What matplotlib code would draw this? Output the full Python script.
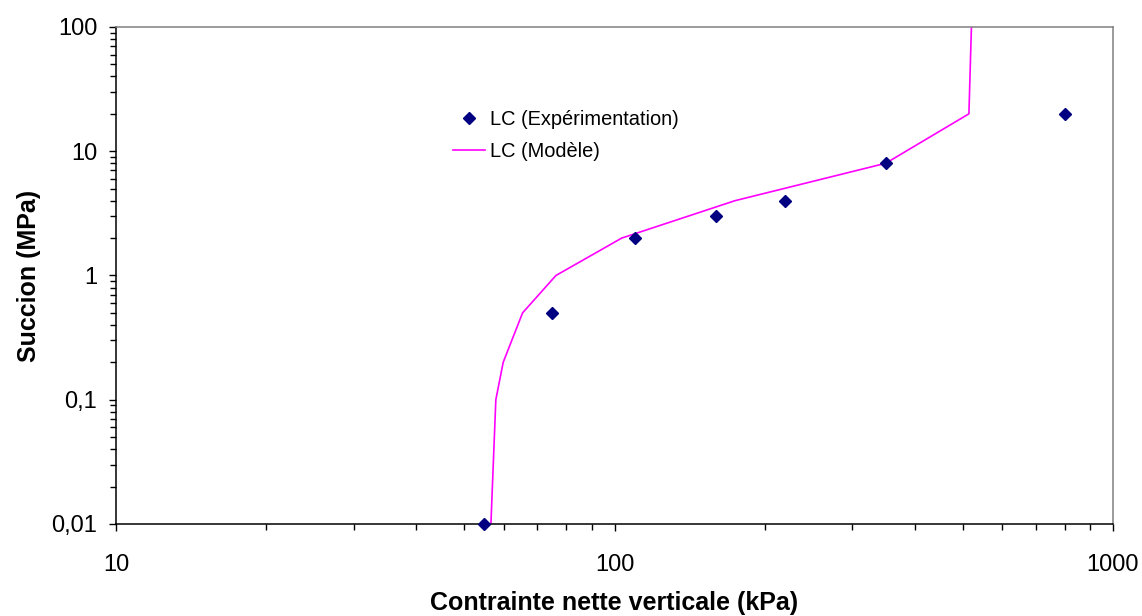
import matplotlib
matplotlib.use("Agg")
import matplotlib.pyplot as plt
from matplotlib.ticker import FixedLocator, LogLocator, NullFormatter

plt.rcParams["font.family"] = ["Liberation Sans", "DejaVu Sans"]

# --- data ---
exp_stress = [54.7, 75, 110, 160, 220, 350, 800]      # kPa
exp_suction = [0.01, 0.5, 2, 3, 4, 8, 20]              # MPa

model_stress = [56.5, 57.8, 59.8, 65.4, 76.3, 103.4, 174.5, 350, 514, 520]
model_suction = [0.01, 0.1, 0.2, 0.5, 1, 2, 4, 8, 20, 100]

xticks = [10, 100, 1000]
xtick_labels = ["10", "100", "1000"]
yticks = [0.01, 0.1, 1, 10, 100]
ytick_labels = ["0,01", "0,1", "1", "10", "100"]

fig = plt.figure(figsize=(11.42, 6.16), dpi=100)
ax = fig.add_axes([0.1016, 0.1494, 0.873, 0.8068])

ax.plot(model_stress, model_suction, color="#FF00FF", lw=1.2,
        label="LC (Modèle)", zorder=2)
ax.plot(exp_stress, exp_suction, ls="none", marker="D", ms=6.5,
        color="#000080", label="LC (Expérimentation)", zorder=3, clip_on=False)

ax.set_xscale("log")
ax.set_yscale("log")
ax.set_xlim(10, 1000)
ax.set_ylim(0.01, 100)

ax.xaxis.set_major_locator(FixedLocator(xticks))
ax.set_xticklabels(xtick_labels)
ax.yaxis.set_major_locator(FixedLocator(yticks))
ax.set_yticklabels(ytick_labels)
ax.xaxis.set_minor_locator(LogLocator(base=10, subs=range(2, 10)))
ax.yaxis.set_minor_locator(LogLocator(base=10, subs=range(2, 10)))
ax.xaxis.set_minor_formatter(NullFormatter())
ax.yaxis.set_minor_formatter(NullFormatter())

ax.tick_params(axis="x", which="major", direction="out", length=5, width=1,
               pad=16.5, labelsize=17)
ax.tick_params(axis="y", which="major", direction="out", length=5, width=1,
               pad=8.5, labelsize=17)
ax.tick_params(which="minor", direction="out", length=4, width=1)
ax.tick_params(top=False, right=False, which="both")

for side in ("left", "bottom"):
    ax.spines[side].set_color("black")
    ax.spines[side].set_linewidth(1.1)
for side in ("top", "right"):
    ax.spines[side].set_color("#808080")
    ax.spines[side].set_linewidth(1.1)

ax.set_xlabel("Contrainte nette verticale (kPa)", fontsize=18, fontweight="bold")
ax.set_ylabel("Succion (MPa)", fontsize=18, fontweight="bold")
ax.xaxis.set_label_coords(0.5, -0.135)
ax.yaxis.set_label_coords(-0.075, 0.5)

handles, labels = ax.get_legend_handles_labels()
ax.legend(handles[::-1], labels[::-1], loc="upper left",
          bbox_to_anchor=(0.338, 0.832), frameon=False, fontsize=14.4,
          handlelength=1.6, handletextpad=0.25, labelspacing=0.62,
          borderpad=0, borderaxespad=0, numpoints=1)

fig.savefig("out.png", dpi=100)
